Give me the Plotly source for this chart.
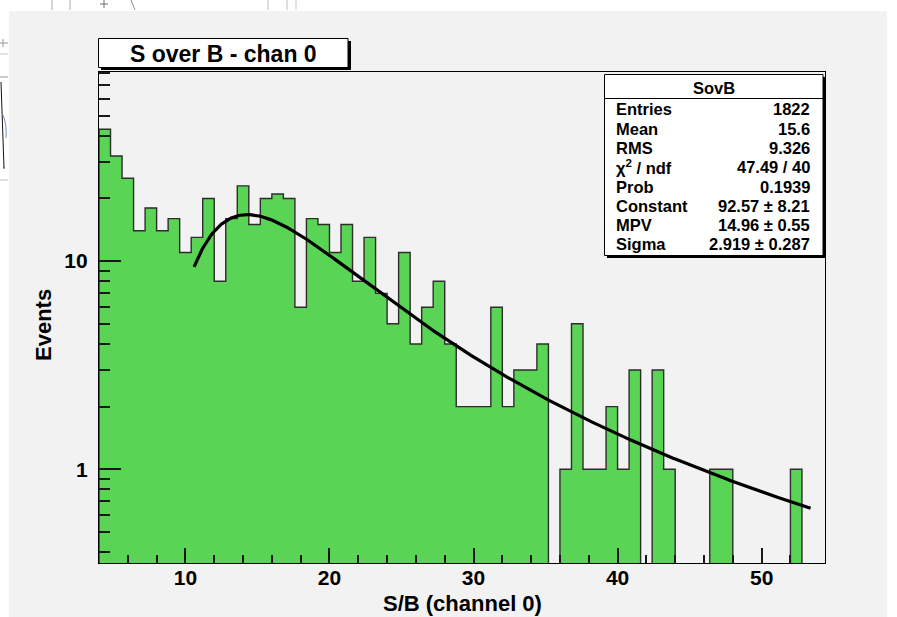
import numpy as np
import plotly.graph_objects as go

# ---- histogram SovB: 63 bins of width 0.8 starting at 4.0 ----
bin_lo = 4.0
bin_width = 0.8
counts = [43, 32, 25, 14, 18, 14, 16, 11, 13, 20,
          8, 16, 23, 15, 20, 21, 20, 6, 16, 15,
          11, 15, 8, 13, 7, 5, 11, 4, 6, 8,
          4, 2, 2, 2, 6, 2, 3, 3, 4, 0,
          1, 5, 1, 1, 2, 1, 3, 0, 3, 1,
          0, 0, 0, 1, 1, 0, 0, 0, 0, 0,
          1, 0, 0]

# ---- Landau fit result ----
fit_constant = 92.57
fit_mpv = 14.96
fit_sigma = 2.919
fit_lo, fit_hi = 10.6, 53.4

# ---- statistics box ----
stat_name = "SovB"
stat_labels = ["Entries", "Mean", "RMS", "χ<sup>2</sup> / ndf", "Prob",
               "Constant", "MPV", "Sigma"]
stat_values = ["1822", "15.6", "9.326", "47.49 / 40", "0.1939",
               "92.57 ± 8.21", "14.96 ± 0.55", "2.919 ± 0.287"]

# ---- axes ----
x_range = [4.0, 54.4]
y_range_log = [-0.4505, 1.9087]
x_major = [10, 20, 30, 40, 50]
x_minor = [v for v in range(6, 54, 2) if v % 10 != 0]
y_major = [1, 10]
y_minor = [0.4, 0.5, 0.6, 0.7, 0.8, 0.9] + list(range(2, 10)) + list(range(20, 90, 10))

title_text = "S over B - chan 0"
x_title = "S/B (channel 0)"
y_title = "Events"

FONT = "Liberation Sans, Arial, Helvetica, sans-serif"
GREEN = "rgb(89,212,84)"
CANVAS = "rgb(242,242,242)"
TICK = "rgb(25,25,25)"

W, H = 897, 617
ML, MR, MT, MB = 99, 72, 72, 54
PW = W - ML - MR
PH = H - MT - MB


def px(x):
    """pixel column -> paper x"""
    return (x - ML) / PW


def py(y):
    """pixel row -> paper y"""
    return (H - MB - y) / PH


def landau_pdf(v):
    """CERNLIB DENLAN approximation of the Landau density."""
    p1 = [0.4259894875, -0.1249762550, 0.03984243700, -0.006298287635, 0.001511162253]
    q1 = [1.0, -0.3388260629, 0.09594393323, -0.01608042283, 0.003778942063]
    p2 = [0.1788541609, 0.1173957403, 0.01488850518, -0.001394989411, 0.0001283617211]
    q2 = [1.0, 0.7428795082, 0.3153932961, 0.06694219548, 0.008790609714]
    p3 = [0.1788544503, 0.09359161662, 0.006325387654, 0.00006611667319, -0.000002031049101]
    q3 = [1.0, 0.6097809921, 0.2560616665, 0.04746722384, 0.006957301675]
    p4 = [0.9874054407, 118.6723273, 849.2794360, -743.7792444, 427.0262186]
    q4 = [1.0, 106.8615961, 337.6496214, 2016.712389, 1597.063511]
    p5 = [1.003675074, 167.5702434, 4789.711289, 21217.86767, -22324.94910]
    q5 = [1.0, 156.9424537, 3745.310488, 9834.698876, 66924.28357]
    a1 = [0.04166666667, -0.01996527778, 0.02709538966]

    def poly(c, t):
        return c[0] + (c[1] + (c[2] + (c[3] + c[4] * t) * t) * t) * t

    if v < -5.5:
        u = np.exp(v + 1.0)
        if u < 1e-10:
            return 0.0
        return 0.3989422803 * (np.exp(-1 / u) / np.sqrt(u)) * \
            (1 + (a1[0] + (a1[1] + a1[2] * u) * u) * u)
    if v < -1:
        u = np.exp(-v - 1)
        return np.exp(-u) * np.sqrt(u) * poly(p1, v) / poly(q1, v)
    if v < 1:
        return poly(p2, v) / poly(q2, v)
    if v < 5:
        return poly(p3, v) / poly(q3, v)
    if v < 12:
        u = 1 / v
        return u * u * poly(p4, u) / poly(q4, u)
    u = 1 / v
    return u * u * poly(p5, u) / poly(q5, u)


# step outline of the histogram; empty bins drop below the visible range
floor = 0.05
edges = [bin_lo + i * bin_width for i in range(len(counts) + 1)]
hx, hy = [edges[0]], [floor]
for i, c in enumerate(counts):
    level = c if c > 0 else floor
    hx += [edges[i], edges[i + 1]]
    hy += [level, level]
hx.append(edges[-1])
hy.append(floor)

fx = np.linspace(fit_lo, fit_hi, 400)
fy = [fit_constant * landau_pdf((x - fit_mpv) / fit_sigma) for x in fx]

fig = go.Figure()
fig.add_trace(go.Scatter(
    x=hx, y=hy, mode="lines", fill="toself", fillcolor=GREEN,
    line=dict(color="rgb(45,45,45)", width=1.4), hoverinfo="skip",
    showlegend=False))
fig.add_trace(go.Scatter(
    x=fx, y=fy, mode="lines", line=dict(color="black", width=3.2),
    hoverinfo="skip", showlegend=False))

shapes = []
# canvas window background
shapes.append(dict(type="rect", xref="paper", yref="paper", layer="below",
                   x0=px(9), x1=px(887), y0=py(625), y1=py(11),
                   fillcolor=CANVAS, line=dict(width=0)))
# edges of another window lying behind the canvas
for (xa, ya, xb, yb, col) in [
        (52, 0, 52, 10, "rgb(170,170,170)"), (70, 0, 70, 10, "rgb(170,170,170)"),
        (268, 0, 268, 10, "rgb(190,190,190)"), (287, 0, 287, 10, "rgb(190,190,190)"),
        (296, 0, 296, 10, "rgb(200,200,200)"),
        (104, 0, 104, 8, "rgb(110,110,110)"), (100, 4, 108, 4, "rgb(110,110,110)"),
        (131, 0, 135, 10, "rgb(140,140,140)"),
        (0, 43, 8, 43, "rgb(150,150,150)"), (3, 39, 3, 47, "rgb(150,150,150)"),
        (0, 54, 8, 54, "rgb(200,200,200)"),
        (0, 77, 8, 77, "rgb(150,150,150)"), (0, 180, 8, 180, "rgb(190,190,190)"),
        (1, 82, 4, 168, "rgb(20,20,20)"), (3, 168, 5, 168, "rgb(60,60,60)")]:
    shapes.append(dict(type="line", xref="paper", yref="paper", layer="below",
                       x0=px(xa), x1=px(xb), y0=py(ya), y1=py(yb),
                       line=dict(color=col, width=1)))
shapes.append(dict(type="path", xref="paper", yref="paper", layer="below",
                   path="M %f,%f Q %f,%f %f,%f" % (px(3), py(115), px(7), py(125),
                                                  px(6), py(138)),
                   line=dict(color="rgb(120,140,200)", width=1)))

# title box with shadow
shapes.append(dict(type="rect", xref="paper", yref="paper", layer="above",
                   x0=px(101), x1=px(351), y0=py(70), y1=py(41),
                   fillcolor="black", line=dict(width=0)))
shapes.append(dict(type="rect", xref="paper", yref="paper", layer="above",
                   x0=px(98.5), x1=px(348), y0=py(67.5), y1=py(38.5),
                   fillcolor="white", line=dict(color="black", width=1)))
# statistics box with shadow
shapes.append(dict(type="rect", xref="paper", yref="paper", layer="above",
                   x0=px(607), x1=px(825.5), y0=py(258), y1=py(77),
                   fillcolor="black", line=dict(width=0)))
shapes.append(dict(type="rect", xref="paper", yref="paper", layer="above",
                   x0=px(604.5), x1=px(823), y0=py(255.5), y1=py(74.5),
                   fillcolor="white", line=dict(color="black", width=1)))
shapes.append(dict(type="line", xref="paper", yref="paper", layer="above",
                   x0=px(604.5), x1=px(823), y0=py(98.5), y1=py(98.5),
                   line=dict(color="black", width=1)))

annotations = []
annotations.append(dict(xref="paper", yref="paper", x=px(223), y=py(54),
                        text=title_text, showarrow=False, xanchor="center",
                        yanchor="middle",
                        font=dict(family=FONT, size=23, color="black", weight="bold")))
annotations.append(dict(xref="paper", yref="paper", x=px(714), y=py(88),
                        text=stat_name, showarrow=False, xanchor="center",
                        yanchor="middle",
                        font=dict(family=FONT, size=16.5, color="black", weight="bold")))
for i, (lab, val) in enumerate(zip(stat_labels, stat_values)):
    yy = py(109.3 + i * 19.3)
    annotations.append(dict(xref="paper", yref="paper", x=px(614), y=yy,
                            text=lab, showarrow=False, xanchor="left",
                            yanchor="middle",
                            font=dict(family=FONT, size=16.5, color="black",
                                      weight="bold")))
    annotations.append(dict(xref="paper", yref="paper", x=px(812), y=yy,
                            text=val, showarrow=False, xanchor="right",
                            yanchor="middle",
                            font=dict(family=FONT, size=16.5, color="black",
                                      weight="bold")))
annotations.append(dict(xref="paper", yref="paper", x=px(462), y=py(603),
                        text=x_title, showarrow=False, xanchor="center",
                        yanchor="middle",
                        font=dict(family=FONT, size=22, color="black", weight="bold")))
annotations.append(dict(xref="paper", yref="paper", x=px(43), y=py(325),
                        text=y_title, showarrow=False, xanchor="center",
                        yanchor="middle", textangle=-90,
                        font=dict(family=FONT, size=22, color="black", weight="bold")))

fig.update_layout(
    width=W, height=H,
    margin=dict(l=ML, r=MR, t=MT, b=MB, pad=0),
    paper_bgcolor="white", plot_bgcolor=CANVAS,
    shapes=shapes, annotations=annotations, showlegend=False,
    xaxis=dict(range=x_range, showgrid=False, zeroline=False,
               showline=True, mirror=True, linecolor="black", linewidth=1.4,
               tickmode="array", tickvals=x_major,
               ticktext=[str(v) for v in x_major],
               ticks="inside", ticklen=15, tickwidth=1.5, tickcolor=TICK,
               ticklabelstandoff=-4, layer="above traces",
               tickfont=dict(family=FONT, size=21, color="black", weight="bold"),
               minor=dict(tickmode="array", tickvals=x_minor, ticks="inside",
                          ticklen=8, tickwidth=1.5, tickcolor=TICK,
                          showgrid=False)),
    yaxis=dict(type="log", range=y_range_log, showgrid=False, zeroline=False,
               showline=True, mirror=True, linecolor="black", linewidth=1.4,
               tickmode="array", tickvals=y_major,
               ticktext=[str(v) for v in y_major],
               ticks="inside", ticklen=22, tickwidth=1.5, tickcolor=TICK,
               ticklabelstandoff=6, layer="above traces",
               tickfont=dict(family=FONT, size=21, color="black", weight="bold"),
               minor=dict(tickmode="array", tickvals=y_minor, ticks="inside",
                          ticklen=11, tickwidth=1.5, tickcolor=TICK,
                          showgrid=False)),
)

fig.write_html("out.html")
